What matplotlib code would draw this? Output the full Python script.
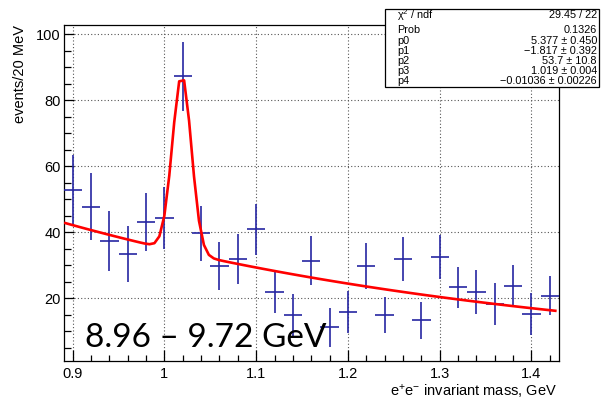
import numpy as np
import matplotlib
matplotlib.use("Agg")
import matplotlib.pyplot as plt
from matplotlib.ticker import MultipleLocator

plt.rcParams['font.family'] = ['Liberation Sans', 'DejaVu Sans']
plt.rcParams['mathtext.fontset'] = 'custom'
plt.rcParams['mathtext.rm'] = 'Liberation Sans'
plt.rcParams['mathtext.it'] = 'Liberation Sans'
plt.rcParams['mathtext.default'] = 'regular'

# histogram, 20 MeV bins
mass = [0.90, 0.92, 0.94, 0.96, 0.98, 1.00, 1.02, 1.04, 1.06, 1.08, 1.10, 1.12, 1.14,
        1.16, 1.18, 1.20, 1.22, 1.24, 1.26, 1.28, 1.30, 1.32, 1.34, 1.36, 1.38, 1.40, 1.42]
events = [52.8, 47.8, 37.4, 33.3, 43.0, 44.2, 87.2, 39.7, 29.8, 31.9, 40.9, 22.0, 15.0,
          31.4, 11.2, 15.8, 29.8, 15.0, 31.9, 13.4, 32.4, 23.3, 22.0, 18.3, 23.8, 15.2, 20.8]
errors = [10.6, 10.2, 9.0, 8.5, 8.8, 9.4, 10.6, 8.4, 7.3, 7.5, 7.8, 6.4, 6.4,
          7.4, 6.0, 6.3, 7.0, 5.5, 6.7, 5.6, 6.7, 6.3, 6.7, 6.4, 6.2, 6.3, 6.0]
bin_half = 0.01

# fit: exp(p0 + p1*x) + p2*gaus(x; p3, p4)
p0, p1, p2, p3, p4 = 5.377, -1.817, 53.7, 1.019, -0.01036
stats_names = [r'$\chi^{2}$ / ndf', 'Prob', 'p0', 'p1', 'p2', 'p3', 'p4']
stats_vals = ['29.45 / 22', '0.1326', '5.377 ± 0.450', '−1.817 ± 0.392',
              '53.7 ± 10.8', '1.019 ± 0.004', '−0.01036 ± 0.00226']

fig = plt.figure(figsize=(6.06, 4.01), dpi=100)
ax = fig.add_axes([63.5/606, 1 - 361/401, (559 - 63.5)/606, (361 - 25)/401])

ax.errorbar(mass, events, yerr=errors, xerr=bin_half, fmt='none',
            ecolor='#2626a2', elinewidth=1.2, capsize=0, zorder=3)

xf = np.linspace(0.892, 1.426, 100)
yf = np.exp(p0 + p1 * xf) + p2 * np.exp(-0.5 * ((xf - p3) / p4) ** 2)
ax.plot(xf, yf, color='#ff0000', lw=1.9, zorder=4)

ax.set_xlim(0.89, 1.43)
ax.set_ylim(1.0, 102.8)
ax.xaxis.set_major_locator(MultipleLocator(0.1))
ax.xaxis.set_minor_locator(MultipleLocator(0.02))
ax.yaxis.set_major_locator(MultipleLocator(20))
ax.yaxis.set_minor_locator(MultipleLocator(5))
ax.set_xticks([0.9, 1.0, 1.1, 1.2, 1.3, 1.4])
ax.set_xticklabels(['0.9', '1', '1.1', '1.2', '1.3', '1.4'])
ax.tick_params(which='both', direction='in', top=False, right=False, labelsize=10.5, width=0.9)
ax.tick_params(axis='x', which='major', length=8, pad=4)
ax.tick_params(axis='x', which='minor', length=4.5)
ax.tick_params(axis='y', which='major', length=7, pad=2)
ax.tick_params(axis='y', which='minor', length=5)
ax.grid(True, which='major', ls=(0, (1, 2)), color='#555555', lw=0.8)
for s in ax.spines.values():
    s.set_linewidth(0.9)

fig.text(557/606, 1 - 391/401, r'e$^{+}$e$^{-}$ invariant mass, GeV', ha='right', va='center', fontsize=10.5)
fig.text(20/606, 1 - 25/401, 'events/20 MeV', rotation=90, ha='center', va='top', fontsize=10.5)

ax.text(0.043, 0.042, '8.96 – 9.72 GeV', transform=ax.transAxes, fontsize=24,
        family=['Lato', 'DejaVu Sans'], ha='left', va='baseline', zorder=5)

# stats box
bx0, by0, bx1, by1 = 385/606, 1 - 87/401, 599/606, 1 - 9/401
fig.patches.append(plt.Rectangle((bx0, by0), bx1 - bx0, by1 - by0, transform=fig.transFigure,
                                 facecolor='white', edgecolor='black', lw=0.9, zorder=10))
rows_y = [15, 30, 41, 51, 61, 71, 81]
for name, val, ry in zip(stats_names, stats_vals, rows_y):
    fig.text(397/606, 1 - ry/401, name, ha='left', va='center', fontsize=7.8, zorder=11)
    fig.text(597/606, 1 - ry/401, val, ha='right', va='center', fontsize=7.8, zorder=11)

fig.savefig('out.png', dpi=100)
